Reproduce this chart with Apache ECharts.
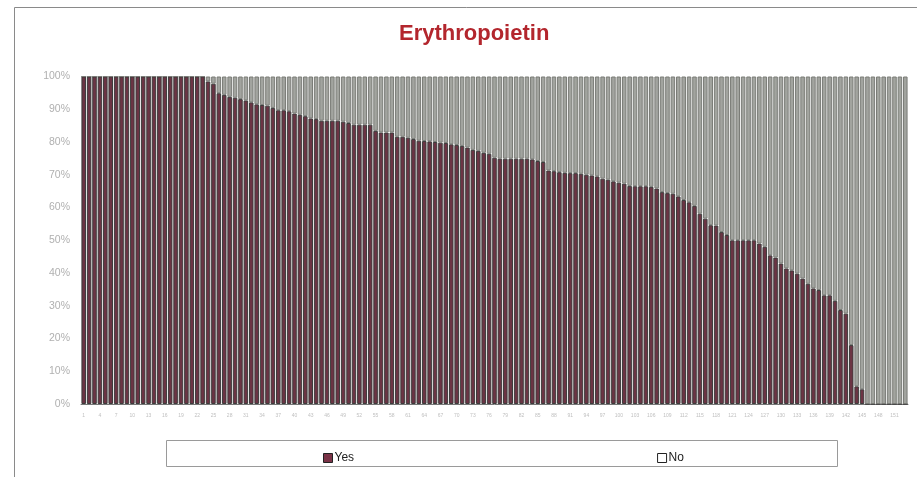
<!DOCTYPE html>
<html>
<head>
<meta charset="utf-8">
<script src="https://cdn.jsdelivr.net/npm/echarts@6/dist/echarts.min.js"></script>
<style>
html,body{margin:0;padding:0;background:#fff;}
#chart{width:917px;height:477px;}
</style>
</head>
<body>
<div id="chart"></div>
<script>
// Categories (1..153)
var categories = ['1','2','3','4','5','6','7','8','9','10','11','12','13','14','15','16','17','18','19','20',
'21','22','23','24','25','26','27','28','29','30','31','32','33','34','35','36','37','38','39','40',
'41','42','43','44','45','46','47','48','49','50','51','52','53','54','55','56','57','58','59','60',
'61','62','63','64','65','66','67','68','69','70','71','72','73','74','75','76','77','78','79','80',
'81','82','83','84','85','86','87','88','89','90','91','92','93','94','95','96','97','98','99','100',
'101','102','103','104','105','106','107','108','109','110','111','112','113','114','115','116','117','118','119','120',
'121','122','123','124','125','126','127','128','129','130','131','132','133','134','135','136','137','138','139','140',
'141','142','143','144','145','146','147','148','149','150','151','152','153'];

// "Yes" share (%) per category
var yesValues = [
100,100,100,100,100,100,100,100,100,100,100,100,100,100,100,100,100,100,100,100,100,100,100,
98.5,97.8,94.9,94.4,93.8,93.5,93.1,92.7,92.1,91.5,
91.3,91.1,90.4,89.7,89.7,89.4,88.7,88.3,87.9,87.2,
87.0,86.5,86.5,86.5,86.5,86.2,85.8,85.3,85.3,85.3,
85.3,83.4,82.9,82.9,82.9,81.6,81.6,81.3,80.9,80.4,
80.3,80.2,80.0,79.8,79.7,
79.3,79.1,78.8,78.3,77.6,77.3,76.7,76.4,75.2,74.9,
74.9,74.9,74.9,74.9,74.9,74.7,74.2,73.9,71.3,71.1,
70.8,70.6,70.5,70.5,70.3,70.0,69.8,69.5,68.8,68.5,
68.0,67.6,67.3,66.6,66.5,66.5,66.5,66.3,65.8,64.7,
64.4,64.2,63.4,62.3,61.6,60.5,58.1,
56.6,54.6,54.5,52.5,51.6,50,50,50,50,50,
49,48,45.4,44.7,42.9,41.4,40.8,39.8,38.3,36.7,
35.3,34.8,33.2,33.2,31.5,28.7,27.6,18,5.4,4.5,
0,0,0,0,0,0,0,0];

// "No" share is the complement of "Yes" (100% stacked chart)
var noValues = yesValues.map(function(v){ return +(100 - v).toFixed(1); });

var yTicks = ['0%','10%','20%','30%','40%','50%','60%','70%','80%','90%','100%'];

var chart = echarts.init(document.getElementById('chart'), null, {renderer:'canvas'});
chart.setOption({
  animation: false,
  backgroundColor: '#ffffff',
  title: {
    text: 'Erythropoietin',
    left: 394,
    top: 18,
    textStyle: {color:'#b3262d', fontSize:22, fontWeight:'bold', fontFamily:'Liberation Sans'}
  },
  graphic: [
    {type:'rect', shape:{x:14.5, y:7.5, width:930, height:500}, style:{fill:'none', stroke:'#8a8a8a', lineWidth:1}, z:-10},
    {type:'rect', shape:{x:166.5, y:440.5, width:671, height:26}, style:{fill:'#fff', stroke:'#9a9a9a', lineWidth:1}, z:-5}
  ],
  legend: {
    left: 318,
    top: 447,
    itemWidth: 9,
    itemHeight: 9,
    itemGap: 303,
    textStyle: {color:'#222', fontSize:12, fontFamily:'Liberation Sans Narrow, Liberation Sans', padding:[0,0,0,-3]},
    data: [
      {name:'Yes', icon:'rect', itemStyle:{color:'#7a3347', borderColor:'#222', borderWidth:1}},
      {name:'No', icon:'rect', itemStyle:{color:'#ffffff', borderColor:'#222', borderWidth:1}}
    ]
  },
  grid: {left: 81, right: 9, top: 76.5, bottom: 73, containLabel:false},
  xAxis: {
    type: 'category',
    data: categories,
    axisTick: {show:false},
    axisLine: {show:true, lineStyle:{color:'#777'}},
    axisLabel: {interval: 2, fontSize: 5, color: '#c0c0c0', margin: 9, fontFamily:'Liberation Sans'}
  },
  yAxis: {
    type: 'value',
    min: 0, max: 100, interval: 10,
    axisLine: {show:false},
    axisTick: {show:false},
    splitLine: {show:false},
    axisLabel: {
      color:'#b0b0b0', fontSize:10.5, margin:11, fontFamily:'Liberation Sans',
      formatter: function(v){ return yTicks[Math.round(v/10)]; }
    }
  },
  series: [
    {
      name:'Yes', type:'bar', stack:'all', data: yesValues,
      barCategoryGap: '16%',
      itemStyle: {color:'#6c3444', borderColor:'#3c3c3c', borderWidth:1}
    },
    {
      name:'No', type:'bar', stack:'all', data: noValues,
      barCategoryGap: '16%',
      itemStyle: {color:'#a2a49f', borderColor:'#7a7c77', borderWidth:1}
    }
  ]
});
</script>
</body>
</html>
